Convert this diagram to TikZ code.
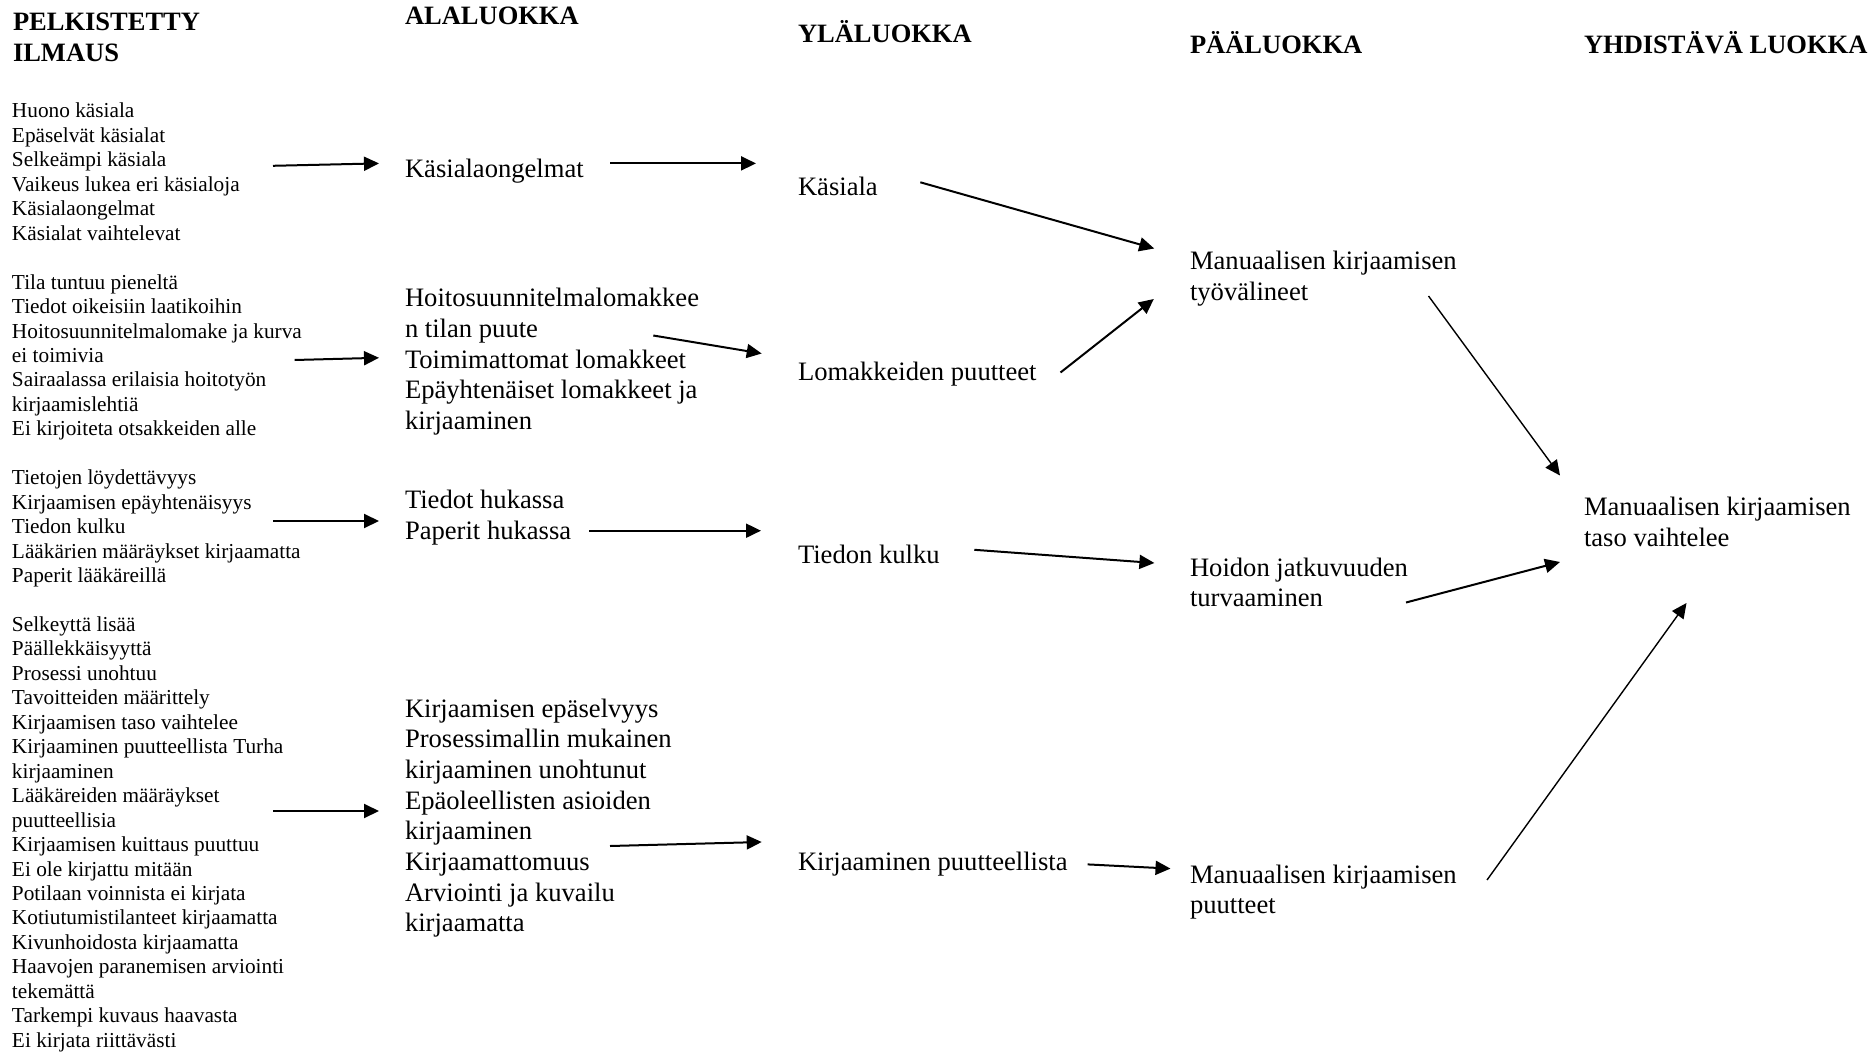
\documentclass[tikz,border=0pt]{standalone}
\usepackage{fontspec}
\setmainfont{Liberation Serif}
\usetikzlibrary{arrows.meta}

% type sizes (1pt of the picture = 1 unit)
\newcommand{\smalltxt}{\fontsize{21.3}{24.45}\selectfont}
\newcommand{\bigtxt}{\fontsize{26.6}{30.7}\selectfont}
\newcommand{\headtxt}{\fontsize{26.5}{31}\selectfont\bfseries}
% a left-aligned block whose baseline is that of its first line
\newcommand{\lines}[1]{\begin{tabular}[t]{@{}l@{}}#1\end{tabular}}

\tikzset{
  txt/.style={anchor=base west, inner sep=0pt, outer sep=0pt},
  head/.style={txt, font=\headtxt},
  item/.style={txt, font=\smalltxt},
  cat/.style={txt, font=\bigtxt},
  arr/.style={line width=2pt, -{Triangle[length=15pt,width=14pt]}},
  thinarr/.style={line width=1.4pt, -{Triangle[length=15pt,width=14pt]}},
}

\begin{document}
\begin{tikzpicture}[x=1pt, y=-1pt]
\useasboundingbox (0,0) rectangle (1870,1056);

% column headings
\node[head] (h1) at (13,30.5) {\lines{PELKISTETTY\\ILMAUS}};
\node[head] (h2) at (405,24.3) {ALALUOKKA};
\node[head] (h3) at (798,42.2) {YLÄLUOKKA};
\node[head] (h4) at (1190,54) {PÄÄLUOKKA};
\node[head] (h5) at (1584,54) {YHDISTÄVÄ LUOKKA};

% simplified expressions
\node[item] (b1) at (12,118) {\lines{Huono käsiala\\Epäselvät käsialat\\Selkeämpi käsiala\\Vaikeus lukea eri käsialoja\\Käsialaongelmat\\Käsialat vaihtelevat}};
\node[item] (b2) at (12,289.2) {\lines{Tila tuntuu pieneltä\\Tiedot oikeisiin laatikoihin\\Hoitosuunnitelmalomake ja kurva\\ei toimivia\\Sairaalassa erilaisia hoitotyön\\kirjaamislehtiä\\Ei kirjoiteta otsakkeiden alle}};
\node[item] (b3) at (12,484.8) {\lines{Tietojen löydettävyys\\Kirjaamisen epäyhtenäisyys\\Tiedon kulku\\Lääkärien määräykset kirjaamatta\\Paperit lääkäreillä}};
\node[item] (b4) at (12,631.5) {\lines{Selkeyttä lisää\\Päällekkäisyyttä\\Prosessi unohtuu\\Tavoitteiden määrittely\\Kirjaamisen taso vaihtelee\\Kirjaaminen puutteellista Turha\\kirjaaminen\\Lääkäreiden määräykset\\puutteellisia\\Kirjaamisen kuittaus puuttuu\\Ei ole kirjattu mitään\\Potilaan voinnista ei kirjata\\Kotiutumistilanteet kirjaamatta\\Kivunhoidosta kirjaamatta\\Haavojen paranemisen arviointi\\tekemättä\\Tarkempi kuvaus haavasta\\Ei kirjata riittävästi}};

% subcategories
\node[cat] (a1) at (405,178) {Käsialaongelmat};
\node[cat] (a2) at (405,306.7) {\lines{Hoitosuunnitelmalomakkee\\n tilan puute\\Toimimattomat lomakkeet\\Epäyhtenäiset lomakkeet ja\\kirjaaminen}};
\node[cat] (a3) at (405,508.4) {\lines{Tiedot hukassa\\Paperit hukassa}};
\node[cat] (a4) at (405,717) {\lines{Kirjaamisen epäselvyys\\Prosessimallin mukainen\\kirjaaminen unohtunut\\Epäoleellisten asioiden\\kirjaaminen\\Kirjaamattomuus\\Arviointi ja kuvailu\\kirjaamatta}};

% upper categories
\node[cat] (y1) at (798,196) {Käsiala};
\node[cat] (y2) at (798,380) {Lomakkeiden puutteet};
\node[cat] (y3) at (798,563) {Tiedon kulku};
\node[cat] (y4) at (798,870) {Kirjaaminen puutteellista};

% main categories
\node[cat] (p1) at (1190,270) {\lines{Manuaalisen kirjaamisen\\työvälineet}};
\node[cat] (p2) at (1190,576) {\lines{Hoidon jatkuvuuden\\turvaaminen}};
\node[cat] (p3) at (1190,883) {\lines{Manuaalisen kirjaamisen\\puutteet}};

% combining category
\node[cat] (c1) at (1584,515.5) {\lines{Manuaalisen kirjaamisen\\taso vaihtelee}};

% arrow end points
\coordinate (b1o) at (273,165.8);   \coordinate (a1i) at (379,163.4);
\coordinate (b2o) at (294.6,360);   \coordinate (a2i) at (379,357.8);
\coordinate (b3o) at (273,521);     \coordinate (a3i) at (379,521);
\coordinate (b4o) at (273,811);     \coordinate (a4i) at (379,811);
\coordinate (a1o) at (610,163.4);   \coordinate (y1i) at (756,163.4);
\coordinate (a2o) at (653.3,335.5); \coordinate (y2i) at (761.7,353.5);
\coordinate (a3o) at (589,530.7);   \coordinate (y3i) at (761,530.7);
\coordinate (a4o) at (610,846);     \coordinate (y4i) at (761.7,842);
\coordinate (y1o) at (920.3,182.3); \coordinate (p1ia) at (1154.2,248.5);
\coordinate (y2o) at (1060.5,372.5);\coordinate (p1ib) at (1153.8,299);
\coordinate (y3o) at (974.3,549.8); \coordinate (p2i) at (1154.4,563);
\coordinate (y4o) at (1087.6,864.4);\coordinate (p3i) at (1170.5,868.6);
\coordinate (p1o) at (1428.5,296);  \coordinate (c1ia) at (1560,475.5);
\coordinate (p2o) at (1406,602.5);  \coordinate (c1ib) at (1560,562);
\coordinate (p3o) at (1487,880);    \coordinate (c1ic) at (1686.5,603);

% connectors
\draw[arr] (b1o) -- (a1i);
\draw[arr] (b2o) -- (a2i);
\draw[arr] (b3o) -- (a3i);
\draw[arr] (b4o) -- (a4i);
\draw[arr] (a1o) -- (y1i);
\draw[arr] (a2o) -- (y2i);
\draw[arr] (a3o) -- (y3i);
\draw[arr] (a4o) -- (y4i);
\draw[arr] (y1o) -- (p1ia);
\draw[arr] (y2o) -- (p1ib);
\draw[arr] (y3o) -- (p2i);
\draw[arr] (y4o) -- (p3i);
\draw[thinarr] (p1o) -- (c1ia);
\draw[arr] (p2o) -- (c1ib);
\draw[thinarr] (p3o) -- (c1ic);
\end{tikzpicture}
\end{document}
